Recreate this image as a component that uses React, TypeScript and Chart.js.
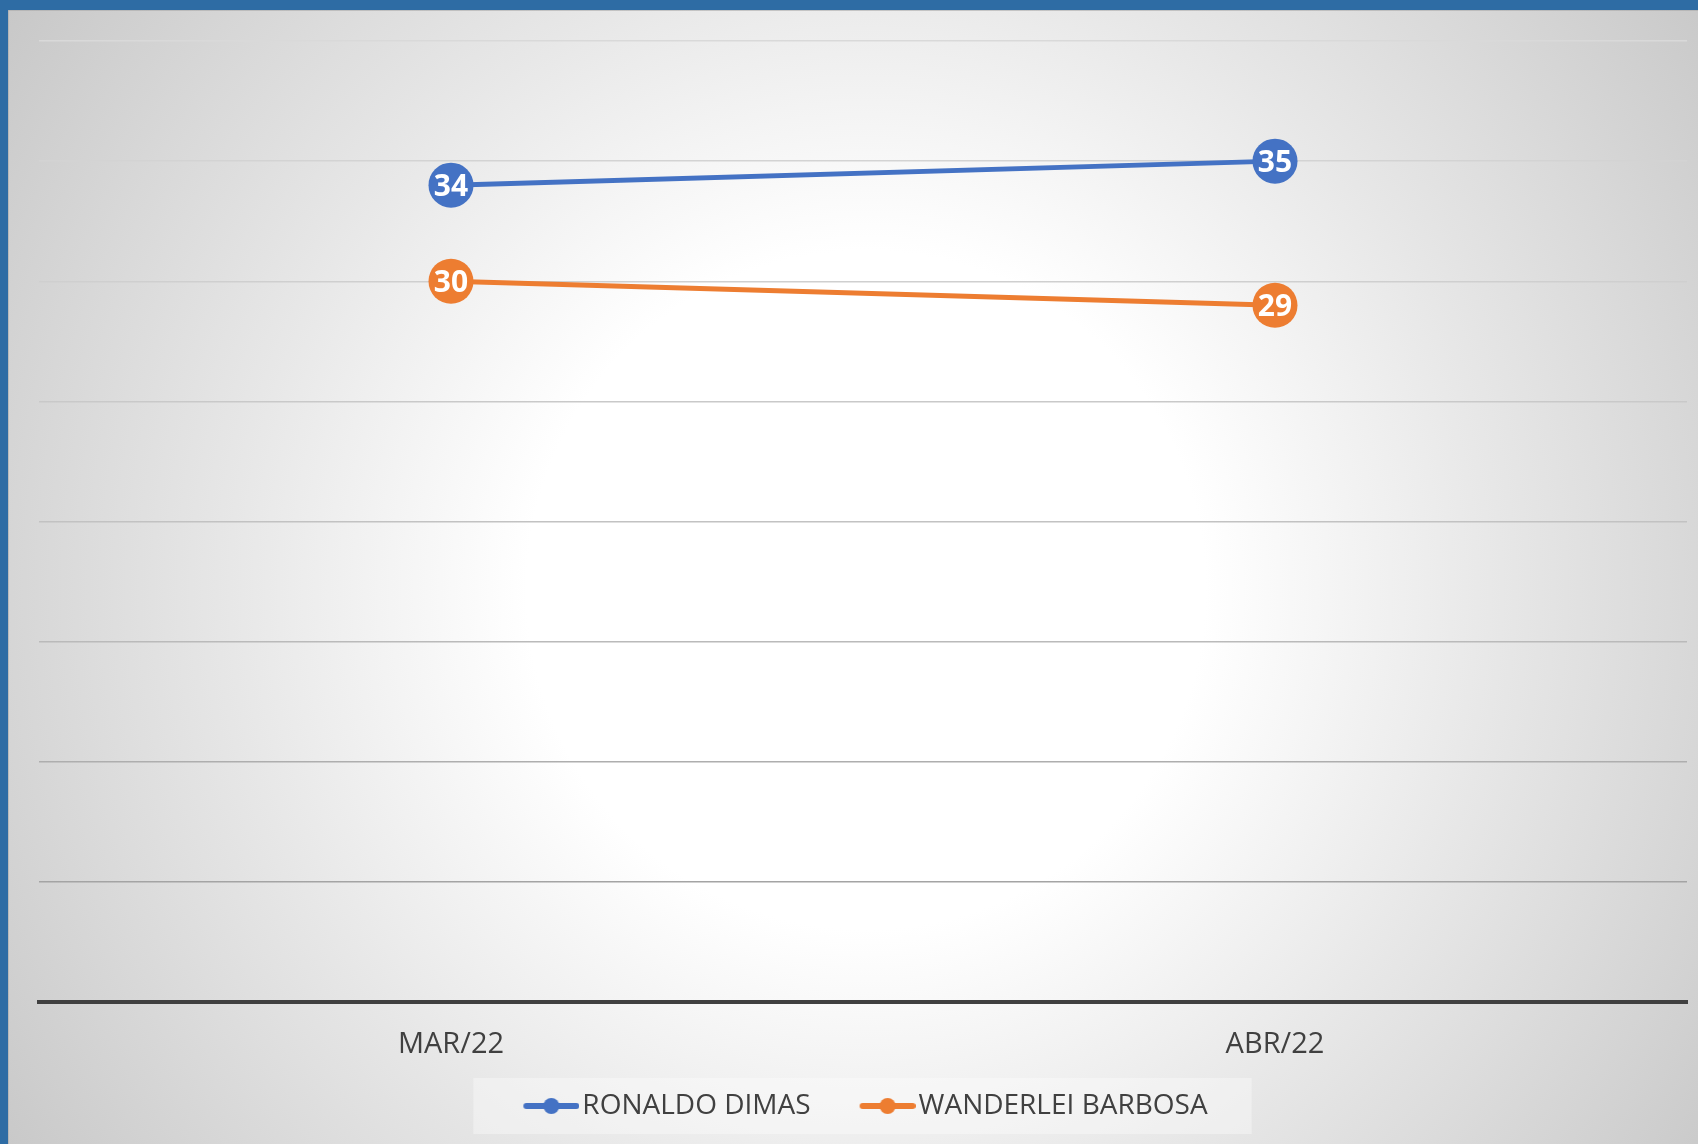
import React, { useEffect, useRef } from "react";
import { Chart, registerables } from "chart.js";

Chart.register(...registerables);

const categories = ["MAR/22", "ABR/22"];
const seriesNames = ["RONALDO DIMAS", "WANDERLEI BARBOSA"];
const ronaldoValues = [34, 35];
const wanderleiValues = [30, 29];
const seriesColors = ["#4472C4", "#ED7D31"];
const yMin = 0;
const yMax = 40;
const yStep = 5;
// gridline colours for ticks 0,5,...,40 (darker towards the bottom)
const gridColors = [
  "rgba(0,0,0,0)",
  "#a4a4a4",
  "#aeaeae",
  "#bababa",
  "#c2c2c2",
  "#c9c9c9",
  "#cfcfcf",
  "#d3d3d3",
  "#d9d9d9",
];

const W = 1698;
const H = 1144;

function makeLegendIcon(color: string): HTMLCanvasElement {
  const c = document.createElement("canvas");
  c.width = 106;
  c.height = 20;
  const g = c.getContext("2d")!;
  g.strokeStyle = color;
  g.fillStyle = color;
  g.lineWidth = 6;
  g.lineCap = "round";
  g.beginPath();
  g.moveTo(53, 10);
  g.lineTo(103, 10);
  g.stroke();
  g.beginPath();
  g.arc(78, 10, 8, 0, Math.PI * 2);
  g.fill();
  return c;
}

const backgroundPlugin = {
  id: "bgPlugin",
  beforeDraw(chart: any) {
    const ctx = chart.ctx;
    ctx.save();
    const grad = ctx.createRadialGradient(866, 590, 0, 866, 590, 1060);
    grad.addColorStop(0, "#ffffff");
    grad.addColorStop(0.32, "#ffffff");
    grad.addColorStop(0.6, "#e7e7e7");
    grad.addColorStop(1, "#c6c6c6");
    ctx.fillStyle = grad;
    ctx.fillRect(0, 0, chart.width, chart.height);
    // frame
    ctx.fillStyle = "#2E6CA4";
    ctx.fillRect(0, 0, chart.width, 10);
    ctx.fillRect(0, 0, 8, chart.height);
    ctx.fillStyle = "rgba(170,170,170,0.6)";
    ctx.fillRect(8, 10, chart.width - 8, 1);
    ctx.fillRect(8, 10, 1, chart.height - 10);
    // legend box
    const lg = chart.legend;
    if (lg && lg.legendHitBoxes && lg.legendHitBoxes.length) {
      const hb = lg.legendHitBoxes;
      const first = hb[0];
      const last = hb[hb.length - 1];
      const cy = first.top + first.height / 2;
      const left = first.left - 11;
      const right = last.left + last.width + 44;
      ctx.fillStyle = "rgba(255,255,255,0.35)";
      ctx.fillRect(left, cy - 28, right - left, 56);
    }
    ctx.restore();
  },
  afterLayout(chart: any) {
    const lg = chart.legend;
    if (lg) {
      lg.left -= 17;
      lg.right -= 17;
    }
  },
};

const dataLabelPlugin = {
  id: "dataLabels",
  afterDatasetsDraw(chart: any) {
    const ctx = chart.ctx;
    ctx.save();
    ctx.font = "bold 30px 'Open Sans'";
    ctx.fillStyle = "#ffffff";
    ctx.textAlign = "center";
    ctx.textBaseline = "alphabetic";
    chart.data.datasets.forEach((ds: any, i: number) => {
      const meta = chart.getDatasetMeta(i);
      meta.data.forEach((el: any, j: number) => {
        ctx.fillText(String(ds.data[j]), el.x, el.y + 10.8);
      });
    });
    ctx.restore();
  },
};

export default function App() {
  const ref = useRef<HTMLCanvasElement | null>(null);

  useEffect(() => {
    if (!ref.current) return;
    const icons = seriesColors.map((c) => makeLegendIcon(c));
    const seriesValues = [ronaldoValues, wanderleiValues];
    const chart = new Chart(ref.current, {
      type: "line",
      data: {
        labels: categories,
        datasets: seriesNames.map((name, i) => ({
          label: name,
          data: seriesValues[i],
          borderColor: seriesColors[i],
          backgroundColor: seriesColors[i],
          pointBackgroundColor: seriesColors[i],
          pointBorderColor: seriesColors[i],
          borderWidth: 5,
          pointRadius: 22.5,
          pointBorderWidth: 0,
          tension: 0,
          fill: false,
          clip: false,
        })),
      },
      options: {
        animation: false,
        responsive: false,
        devicePixelRatio: 1,
        events: [],
        layout: { autoPadding: false, padding: { left: 39, right: 11, top: 41, bottom: 14 } },
        scales: {
          x: {
            offset: true,
            grid: { display: false, drawTicks: false },
            border: { display: true, color: "#404040", width: 4 },
            ticks: {
              color: "#404040",
              padding: 25,
              font: { family: "'Open Sans'", size: 29 },
              maxRotation: 0,
            },
            afterFit: (s: any) => {
              s.height = 80;
            },
          },
          y: {
            min: yMin,
            max: yMax,
            ticks: { display: false, stepSize: yStep },
            border: { display: false },
            grid: {
              drawTicks: false,
              lineWidth: 1.5,
              color: (ctx: any) => gridColors[ctx.index] ?? "#cccccc",
            },
            afterFit: (s: any) => {
              s.width = 0;
            },
          },
        },
        plugins: {
          tooltip: { enabled: false },
          legend: {
            position: "bottom",
            labels: {
              usePointStyle: true,
              pointStyleWidth: 84,
              padding: 10,
              color: "#404040",
              font: { family: "'Open Sans'", size: 28 },
              generateLabels: (ch: any) => {
                const items = Chart.defaults.plugins.legend.labels.generateLabels(ch);
                return items.map((it: any, i: number) => ({
                  ...it,
                  pointStyle: icons[i],
                }));
              },
            },
          },
        },
      },
      plugins: [backgroundPlugin, dataLabelPlugin],
    } as any);
    return () => chart.destroy();
  }, []);

  return (
    <div style={{ position: "fixed", left: 0, top: 0, width: W, height: H }}>
      <canvas ref={ref} width={W} height={H} style={{ width: W, height: H, display: "block" }} />
    </div>
  );
}
